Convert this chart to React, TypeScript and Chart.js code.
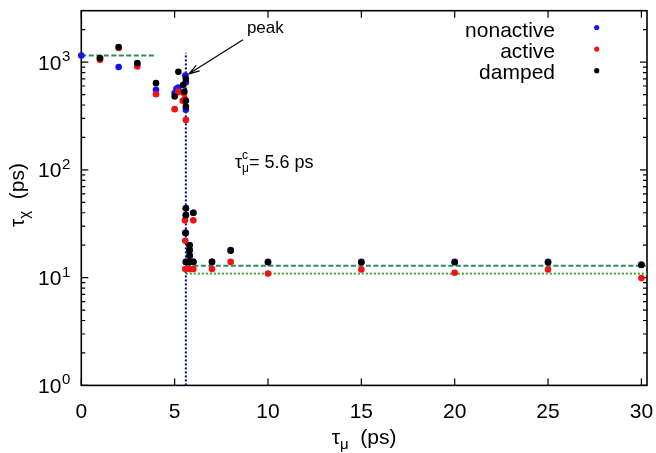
import React, { useEffect, useRef } from 'react';
import { Chart, registerables } from 'chart.js';

Chart.register(...registerables);

const FONT = "'Liberation Sans', Arial, Helvetica, sans-serif";

// ---- axes / labels ----
const xTicks = [0, 5, 10, 15, 20, 25, 30];
const yDecades = [1, 10, 100, 1000];
const yExponents = ['0', '1', '2', '3'];
const legendLabels = ['nonactive', 'active', 'damped'];
const seriesColors = ['#1212f2', '#f21212', '#000000'];

const X_MIN = 0;
const X_MAX = 30.3;
const Y_MIN = 1;
const Y_MAX = 3000;

// ---- series (tau_mu in ps, tau_chi in ps) ----
const nonactiveX = [0, 1, 2, 3, 4, 5, 5.1, 5.2, 5.57, 5.6, 5.6, 5.6, 5.6, 5.6, 5.6, 5.8, 5.8, 5.8, 5.8, 6, 6, 7, 8, 10, 15, 20, 25, 30];
const nonactiveY = [1150, 1080, 900, 950, 553, 515, 565, 581, 751, 650, 361, 44, 38, 26, 14, 20, 18, 16, 14, 40, 14, 14, 18, 14, 14, 14, 14, 13.2];

const activeX = [1, 2, 3, 4, 5, 5.2, 5.2, 5.43, 5.5, 5.54, 5.6, 5.55, 5.57, 5.57, 5.8, 6, 6, 7, 8, 10, 15, 20, 25, 30];
const activeY = [1050, 1350, 910, 504, 366, 533, 527, 437, 515, 453, 291, 34, 22, 12, 12, 34, 12, 12, 14, 10.9, 11.9, 11.1, 11.9, 9.9];

const dampedX = [1, 2, 3, 4, 5, 5.2, 5.46, 5.52, 5.6, 5.6, 5.6, 5.6, 5.6, 5.57, 5.6, 5.8, 5.8, 5.8, 5.8, 6, 6, 7, 8, 10, 15, 20, 25, 30];
const dampedY = [1090, 1380, 979, 638, 480, 813, 615, 533, 700, 437, 387, 44, 38, 26, 14, 20, 18, 16, 14, 40, 14, 14, 17.8, 13.9, 13.9, 13.9, 13.9, 13.1];

// ---- reference lines ----
const plateauHighX = [0, 4];
const plateauHighY = [1150, 1150];
const plateauDampedX = [5.6, X_MAX];
const plateauDampedY = [12.9, 12.9];
const plateauActiveX = [5.6, X_MAX];
const plateauActiveY = [10.9, 10.9];
const criticalX = [5.6, 5.6];
const criticalY = [1, 1220];

// ---- annotation anchors (data units) ----
const peakLabel = { x: 8.87, y: 1880 };
const peakArrowFrom = { x: 8.66, y: 1611 };
const peakArrowTo = { x: 5.77, y: 779 };
const criticalLabel = { x: 8.23, y: 104 };

// ---- layout ----
const W = 656;
const H = 453;
const PLOT_LEFT = 81.3;
const PLOT_TOP = 10.7;
const PLOT_BOTTOM = 385.4;
const PLOT_RIGHT_PAD = 9;

const zip = (xs: number[], ys: number[]) => xs.map((x, i) => ({ x, y: ys[i] }));

type Run = { t: string; size: number; dy: number; adv?: boolean };

function runsWidth(ctx: CanvasRenderingContext2D, runs: Run[]) {
  let w = 0;
  for (const r of runs) {
    ctx.font = `${r.size}px ${FONT}`;
    if (r.adv !== false) w += ctx.measureText(r.t).width;
  }
  return w;
}

function drawRuns(ctx: CanvasRenderingContext2D, x: number, y: number, runs: Run[]) {
  let cx = x;
  ctx.textAlign = 'left';
  ctx.textBaseline = 'alphabetic';
  for (const r of runs) {
    ctx.font = `${r.size}px ${FONT}`;
    ctx.fillText(r.t, cx, y + r.dy);
    if (r.adv !== false) cx += ctx.measureText(r.t).width;
  }
}

const decorPlugin = {
  id: 'gnuplotDecor',
  beforeDraw(chart: any) {
    const { ctx, width, height } = chart;
    ctx.save();
    ctx.fillStyle = '#ffffff';
    ctx.fillRect(0, 0, width, height);
    ctx.restore();
  },
  beforeDatasetsDraw(chart: any) {
    const { ctx, chartArea, scales } = chart;
    const { left, right, top, bottom } = chartArea;
    const xs = scales.x;
    const ys = scales.y;
    ctx.save();
    ctx.strokeStyle = '#000';
    ctx.lineWidth = 1.6;
    ctx.strokeRect(left, top, right - left, bottom - top);
    ctx.lineWidth = 1.2;
    ctx.beginPath();
    const MAJOR = 7;
    const MINOR = 4;
    for (const v of xTicks) {
      const px = xs.getPixelForValue(v);
      ctx.moveTo(px, bottom);
      ctx.lineTo(px, bottom - MAJOR);
      ctx.moveTo(px, top);
      ctx.lineTo(px, top + MAJOR);
    }
    for (const d of yDecades) {
      for (let m = 1; m <= 9; m++) {
        const v = d * m;
        if (v >= Y_MAX) break;
        const py = ys.getPixelForValue(v);
        const len = m === 1 ? MAJOR : MINOR;
        ctx.moveTo(left, py);
        ctx.lineTo(left + len, py);
        ctx.moveTo(right, py);
        ctx.lineTo(right - len, py);
      }
    }
    ctx.stroke();
    ctx.restore();
  },
  afterDatasetsDraw(chart: any) {
    const { ctx, chartArea, scales } = chart;
    const { left, right, top, bottom } = chartArea;
    const xs = scales.x;
    const ys = scales.y;
    ctx.save();
    ctx.fillStyle = '#000';

    // x tick labels
    ctx.font = `21px ${FONT}`;
    ctx.textAlign = 'center';
    ctx.textBaseline = 'alphabetic';
    for (const v of xTicks) {
      ctx.fillText(String(v), xs.getPixelForValue(v), bottom + 33);
    }

    // y tick labels 10^n
    yDecades.forEach((d, i) => {
      const py = ys.getPixelForValue(d);
      const base = py + 7.5;
      ctx.font = `15px ${FONT}`;
      const ws = ctx.measureText(yExponents[i]).width;
      ctx.font = `21px ${FONT}`;
      const wb = ctx.measureText('10').width;
      const xEnd = left - 11;
      ctx.textAlign = 'left';
      ctx.fillText('10', xEnd - ws - wb - 0.5, base);
      ctx.font = `15px ${FONT}`;
      ctx.fillText(yExponents[i], xEnd - ws, base - 8.5);
    });

    // x title
    const xTitle: Run[] = [
      { t: 'τ', size: 21, dy: 0 },
      { t: 'μ', size: 15, dy: 5 },
      { t: '  (ps)', size: 21, dy: 0 },
    ];
    const xw = runsWidth(ctx, xTitle);
    drawRuns(ctx, (left + right) / 2 - xw / 2, 444, xTitle);

    // y title (rotated)
    const yTitle: Run[] = [
      { t: 'τ', size: 21, dy: 0 },
      { t: 'χ', size: 15, dy: 5 },
      { t: '  (ps)', size: 21, dy: 0 },
    ];
    const yw = runsWidth(ctx, yTitle);
    ctx.save();
    ctx.translate(24, (top + bottom) / 2 - 3);
    ctx.rotate(-Math.PI / 2);
    drawRuns(ctx, -yw / 2, 0, yTitle);
    ctx.restore();

    // legend
    ctx.font = `21px ${FONT}`;
    legendLabels.forEach((lab, i) => {
      ctx.textAlign = 'right';
      ctx.textBaseline = 'alphabetic';
      ctx.fillStyle = '#000';
      ctx.fillText(lab, 555, 36.5 + i * 21.3);
      ctx.beginPath();
      ctx.fillStyle = seriesColors[i];
      ctx.arc(596.7, 27.5 + i * 21.6, 2.6, 0, Math.PI * 2);
      ctx.fill();
    });
    ctx.fillStyle = '#000';

    // peak annotation
    ctx.font = `17px ${FONT}`;
    ctx.textAlign = 'left';
    ctx.fillText('peak', xs.getPixelForValue(peakLabel.x), ys.getPixelForValue(peakLabel.y));
    const ax0 = xs.getPixelForValue(peakArrowFrom.x);
    const ay0 = ys.getPixelForValue(peakArrowFrom.y);
    const ax1 = xs.getPixelForValue(peakArrowTo.x);
    const ay1 = ys.getPixelForValue(peakArrowTo.y);
    const ang = Math.atan2(ay1 - ay0, ax1 - ax0);
    const hl = 11;
    ctx.strokeStyle = '#000';
    ctx.lineWidth = 1.2;
    ctx.beginPath();
    ctx.moveTo(ax0, ay0);
    ctx.lineTo(ax1, ay1);
    ctx.moveTo(ax1 - hl * Math.cos(ang - 0.3), ay1 - hl * Math.sin(ang - 0.3));
    ctx.lineTo(ax1, ay1);
    ctx.lineTo(ax1 - hl * Math.cos(ang + 0.3), ay1 - hl * Math.sin(ang + 0.3));
    ctx.stroke();

    // critical value annotation
    const crit: Run[] = [
      { t: 'τ', size: 18, dy: 0 },
      { t: 'c', size: 12, dy: -9, adv: false },
      { t: 'μ', size: 12, dy: 4 },
      { t: '= 5.6 ps', size: 18, dy: 0 },
    ];
    drawRuns(ctx, xs.getPixelForValue(criticalLabel.x), ys.getPixelForValue(criticalLabel.y), crit);

    ctx.restore();
  },
};

export default function App() {
  const ref = useRef<HTMLCanvasElement | null>(null);

  useEffect(() => {
    if (!ref.current) return;
    const pointDs = (label: string, xs: number[], ys: number[], color: string, order: number) => ({
      type: 'scatter' as const,
      label,
      data: zip(xs, ys),
      backgroundColor: color,
      borderColor: color,
      borderWidth: 0,
      pointRadius: 3.3,
      pointHoverRadius: 3.3,
      showLine: false,
      clip: false as any,
      order,
    });
    const lineDs = (label: string, xs: number[], ys: number[], color: string, dash: number[]) => ({
      type: 'line' as const,
      label,
      data: zip(xs, ys),
      borderColor: color,
      backgroundColor: color,
      borderWidth: 2,
      borderDash: dash,
      pointRadius: 0,
      showLine: true,
      fill: false,
      tension: 0,
      clip: false as any,
      order: 10,
    });

    const chart = new Chart(ref.current, {
      type: 'scatter',
      data: {
        datasets: [
          lineDs('plateau high', plateauHighX, plateauHighY, '#2e8b57', [5, 2.5]),
          lineDs('plateau damped', plateauDampedX, plateauDampedY, '#2e8b57', [5, 2.5]),
          lineDs('plateau active', plateauActiveX, plateauActiveY, '#36a336', [2, 2]),
          lineDs('critical', criticalX, criticalY, '#0000b4', [2, 2]),
          pointDs(legendLabels[0], nonactiveX, nonactiveY, seriesColors[0], 3),
          pointDs(legendLabels[1], activeX, activeY, seriesColors[1], 2),
          pointDs(legendLabels[2], dampedX, dampedY, seriesColors[2], 1),
        ] as any,
      },
      options: {
        animation: false,
        responsive: false,
        devicePixelRatio: 1,
        events: [],
        layout: { padding: { left: 0, top: PLOT_TOP, right: PLOT_RIGHT_PAD, bottom: 0 } },
        plugins: { legend: { display: false }, tooltip: { enabled: false } },
        scales: {
          x: {
            type: 'linear',
            min: X_MIN,
            max: X_MAX,
            ticks: { display: false },
            grid: { display: false },
            border: { display: false },
            afterFit: (s: any) => {
              s.height = H - PLOT_BOTTOM;
            },
          },
          y: {
            type: 'logarithmic',
            min: Y_MIN,
            max: Y_MAX,
            ticks: { display: false },
            grid: { display: false },
            border: { display: false },
            afterFit: (s: any) => {
              s.width = PLOT_LEFT;
            },
          },
        },
      } as any,
      plugins: [decorPlugin],
    });
    return () => chart.destroy();
  }, []);

  return (
    <div style={{ position: 'absolute', left: 0, top: 0, width: W, height: H, background: '#fff' }}>
      <canvas ref={ref} width={W} height={H} style={{ display: 'block', width: W, height: H }} />
    </div>
  );
}
